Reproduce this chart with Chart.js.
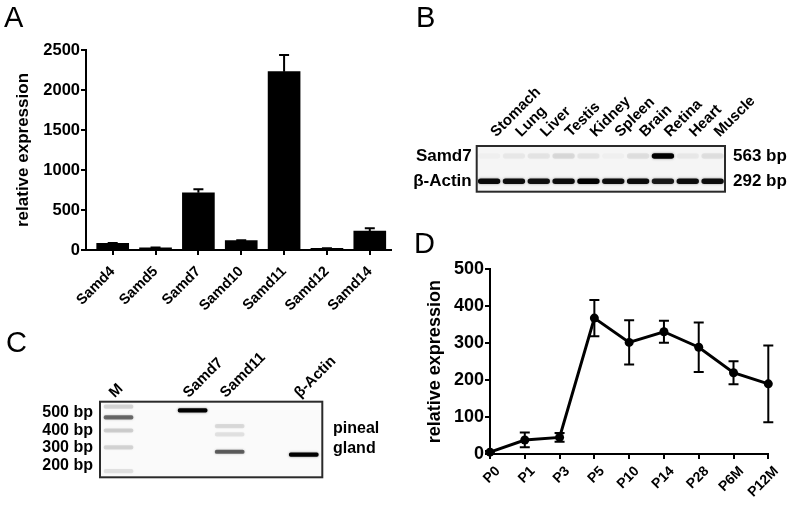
<!DOCTYPE html>
<html>
<head>
<meta charset="utf-8">
<script src="https://cdn.jsdelivr.net/npm/chart.js@4"></script>
<style>
  body { margin: 0; background: #fff; font-family: "Liberation Sans", Arial, Helvetica, sans-serif; }
  #fig { position: relative; width: 791px; height: 507px; overflow: hidden; }
  .panel { position: absolute; }
  .letter { position: absolute; font-size: 29px; line-height: 1; color: #000; }
  .note { position: absolute; font-weight: bold; font-size: 16px; line-height: 20px; color: #000; }
</style>
</head>
<body>
<div id="fig">
  <div class="panel" style="left:0;top:300px;width:400px;height:207px"><canvas id="gelC"></canvas></div>
  <div class="panel" style="left:0;top:0;width:400px;height:320px"><canvas id="chartA"></canvas></div>
  <div class="panel" style="left:400px;top:0;width:391px;height:200px"><canvas id="gelB"></canvas></div>
  <div class="panel" style="left:400px;top:200px;width:391px;height:307px"><canvas id="chartD"></canvas></div>
  <div class="letter" style="left:4px;top:3px">A</div>
  <div class="letter" style="left:416px;top:3px">B</div>
  <div class="letter" style="left:6px;top:328px">C</div>
  <div class="letter" style="left:414px;top:229px">D</div>
  <div class="note" style="left:333px;top:418px">pineal<br>gland</div>
</div>
<script>
// panel A: Samd family expression
const samdGenes = ['Samd4', 'Samd5', 'Samd7', 'Samd10', 'Samd11', 'Samd12', 'Samd14'];
const samdExpr = [83, 28, 716, 117, 2229, 21, 237];
const samdErr = [4, 2, 42, 5, 208, 2, 34];

// panel B: RT-PCR over tissues (band strength 0..1)
const tissues = ['Stomach', 'Lung', 'Liver', 'Testis', 'Kidney', 'Spleen', 'Brain', 'Retina', 'Heart', 'Muscle'];
const samd7Band = [0.02, 0.04, 0.05, 0.09, 0.05, 0.02, 0.07, 1.0, 0.04, 0.07];
const actinBand = [0.95, 0.92, 0.9, 0.93, 1.0, 0.92, 0.93, 0.85, 0.93, 0.93];
const gelBRows = ['Samd7', 'β-Actin'];
const gelBSizes = ['563 bp', '292 bp'];

// panel C: pineal gland gel
const lanesC = ['M', '', 'Samd7', 'Samd11', '', 'β-Actin'];
const bandLaneC = [0, 0, 0, 0, 0, 2, 3, 3, 3, 5];
const bandSizeC = [600, 500, 400, 300, 200, 563, 431, 374, 278, 265];
const bandLevelC = [0.12, 0.5, 0.14, 0.12, 0.08, 1.0, 0.1, 0.08, 0.55, 1.0];
const markerLabelsC = ['500 bp', '400 bp', '300 bp', '200 bp'];

// panel D: Samd7 over development
const ages = ['P0', 'P1', 'P3', 'P5', 'P10', 'P14', 'P28', 'P6M', 'P12M'];
const samd7Expr = [5, 38, 45, 368, 302, 331, 289, 220, 190];
const samd7Err = [3, 20, 12, 49, 60, 30, 67, 31, 104];

Chart.defaults.font.family = '"Liberation Sans", Arial, Helvetica, sans-serif';
Chart.defaults.color = '#000';
Chart.defaults.animation = false;
Chart.defaults.plugins.legend.display = false;
Chart.defaults.plugins.tooltip.enabled = false;

const bold = size => ({ size: size, weight: 'bold' });
const shade = lvl => 'rgba(0,0,0,' + lvl + ')';

// force a scale's box size so the plot areas line up with the figure
function fixSize(w, h) {
  return function (s) {
    if (w != null) s.width = w;
    if (h != null) s.height = h;
    s.paddingLeft = s.paddingRight = s.paddingTop = s.paddingBottom = 0;
  };
}

const axisGrid = { drawOnChartArea: false, offset: false, color: '#000', lineWidth: 2, tickLength: 5 };
const axisBorder = { color: '#000', width: 2 };
const noGrid = { display: false, drawTicks: false };

const errorBars = {
  id: 'errorBars',
  afterDatasetsDraw(chart, args, opts) {
    const meta = chart.getDatasetMeta(0);
    const y = chart.scales.y;
    const vals = chart.data.datasets[0].data;
    const ctx = chart.ctx;
    ctx.save();
    ctx.strokeStyle = '#000';
    ctx.lineWidth = opts.width;
    meta.data.forEach((el, i) => {
      const v = typeof vals[i] === 'object' ? vals[i].y : vals[i];
      const e = opts.errors[i];
      const top = y.getPixelForValue(v + e);
      const bot = opts.upOnly ? y.getPixelForValue(v) : y.getPixelForValue(v - e);
      ctx.beginPath();
      ctx.moveTo(el.x, top); ctx.lineTo(el.x, bot);
      ctx.moveTo(el.x - opts.cap, top); ctx.lineTo(el.x + opts.cap, top);
      if (!opts.upOnly) { ctx.moveTo(el.x - opts.cap, bot); ctx.lineTo(el.x + opts.cap, bot); }
      ctx.stroke();
    });
    ctx.restore();
  }
};

// gel look: light background, soft band edges, dark frame
const gelFrame = {
  id: 'gelFrame',
  beforeDatasetsDraw(chart, args, opts) {
    const a = chart.chartArea, ctx = chart.ctx;
    ctx.save();
    ctx.fillStyle = opts.fill;
    ctx.fillRect(a.left, a.top, a.width, a.height);
    ctx.shadowColor = 'rgba(0,0,0,0.45)';
    ctx.shadowBlur = 2.5;
  },
  afterDatasetsDraw(chart) {
    const a = chart.chartArea, ctx = chart.ctx;
    ctx.restore();
    ctx.save();
    ctx.strokeStyle = '#2a2a2a';
    ctx.lineWidth = 2;
    ctx.strokeRect(a.left, a.top, a.width, a.height);
    ctx.restore();
  }
};

// A
new Chart(document.getElementById('chartA'), {
  type: 'bar',
  data: {
    datasets: [{
      data: samdExpr.map((v, i) => ({ x: i, y: v })),
      backgroundColor: '#000',
      barThickness: 32
    }]
  },
  options: {
    responsive: true,
    maintainAspectRatio: false,
    layout: { padding: { top: 50, right: 9 } },
    scales: {
      x: {
        type: 'linear', min: -0.623, max: 6.495, offset: false,
        grid: axisGrid, border: axisBorder,
        afterBuildTicks: s => { s.ticks = samdGenes.map((_, i) => ({ value: i })); },
        ticks: { font: bold(14.5), minRotation: 45, maxRotation: 45, autoSkip: false, padding: 8, callback: v => samdGenes[v] },
        afterFit: fixSize(null, 70)
      },
      y: {
        min: 0, max: 2500,
        grid: axisGrid, border: axisBorder,
        ticks: { stepSize: 500, font: bold(16.5), padding: 1, callback: v => String(v) },
        title: { display: true, text: 'relative expression', font: bold(17), padding: { top: 13 } },
        afterFit: fixSize(86, null)
      }
    },
    plugins: { errorBars: { errors: samdErr, upOnly: true, cap: 5, width: 2 } }
  },
  plugins: [errorBars]
});

// B
const rowCenter = [0.22, 0.77];
const halfBand = 0.06;
new Chart(document.getElementById('gelB'), {
  type: 'bar',
  data: {
    labels: tissues,
    datasets: [
      {
        data: samd7Band.map(() => [rowCenter[0] - halfBand, rowCenter[0] + halfBand]),
        backgroundColor: samd7Band.map(shade),
        grouped: false, barPercentage: 0.9, categoryPercentage: 1, borderRadius: 3, borderSkipped: false
      },
      {
        data: actinBand.map(() => [rowCenter[1] - halfBand, rowCenter[1] + halfBand]),
        backgroundColor: actinBand.map(shade),
        grouped: false, barPercentage: 0.9, categoryPercentage: 1, borderRadius: 3, borderSkipped: false
      }
    ]
  },
  options: {
    responsive: true,
    maintainAspectRatio: false,
    layout: { padding: { bottom: 8.3 } },
    scales: {
      x: {
        position: 'top',
        grid: noGrid, border: { display: false },
        ticks: { font: bold(15), minRotation: 45, maxRotation: 45, autoSkip: false, padding: 5, labelOffset: 17 },
        afterFit: fixSize(null, 146)
      },
      y: {
        position: 'left', reverse: true, min: 0, max: 1,
        grid: noGrid, border: { display: false },
        afterBuildTicks: s => { s.ticks = rowCenter.map(v => ({ value: v })); },
        ticks: { font: bold(17), padding: 5, callback: (v, i) => gelBRows[i] },
        afterFit: fixSize(76.7, null)
      },
      y2: {
        position: 'right', reverse: true, min: 0, max: 1, display: true,
        grid: noGrid, border: { display: false },
        afterBuildTicks: s => { s.ticks = rowCenter.map(v => ({ value: v })); },
        ticks: { font: bold(17), padding: 8, callback: (v, i) => gelBSizes[i] },
        afterFit: fixSize(66, null)
      }
    },
    plugins: { gelFrame: { fill: '#f5f5f5' } }
  },
  plugins: [gelFrame]
});

// C
new Chart(document.getElementById('gelC'), {
  type: 'bar',
  data: {
    datasets: [{
      data: bandSizeC.map((bp, i) => ({ x: bandLaneC[i], y: [bp / 1.03, bp * 1.03] })),
      backgroundColor: bandLevelC.map(shade),
      barThickness: 29, borderRadius: 2, borderSkipped: false
    }]
  },
  options: {
    responsive: true,
    maintainAspectRatio: false,
    layout: { padding: { right: 77.7, bottom: 29.7 } },
    scales: {
      x: {
        type: 'linear', position: 'top', min: -0.5, max: 5.5, offset: false,
        grid: noGrid, border: { display: false },
        afterBuildTicks: s => { s.ticks = lanesC.map((_, i) => ({ value: i })); },
        ticks: { font: bold(15), minRotation: 45, maxRotation: 45, autoSkip: false, padding: 0, labelOffset: 6, callback: v => lanesC[v] },
        afterFit: fixSize(null, 101.7)
      },
      y: {
        type: 'logarithmic', min: 180, max: 653, display: false
      },
      // marker size labels, evenly spaced beside the gel
      yl: {
        type: 'linear', position: 'left', reverse: true, min: -0.596, max: 3.65,
        grid: noGrid, border: { display: false },
        afterBuildTicks: s => { s.ticks = markerLabelsC.map((_, i) => ({ value: i })); },
        ticks: { font: bold(16), padding: 7, callback: v => markerLabelsC[v] },
        afterFit: fixSize(100, null)
      }
    },
    plugins: { gelFrame: { fill: '#fafafa' } }
  },
  plugins: [gelFrame]
});

// D
new Chart(document.getElementById('chartD'), {
  type: 'line',
  data: {
    labels: ages,
    datasets: [{
      data: samd7Expr,
      borderColor: '#000', borderWidth: 3,
      pointRadius: 4.5, pointBackgroundColor: '#000', pointBorderWidth: 0,
      tension: 0, clip: false
    }]
  },
  options: {
    responsive: true,
    maintainAspectRatio: false,
    layout: { padding: { top: 69.3, right: 22.7 } },
    scales: {
      x: {
        grid: axisGrid, border: axisBorder,
        ticks: { font: bold(14), minRotation: 45, maxRotation: 45, autoSkip: false, padding: 4, labelOffset: 8 },
        afterFit: fixSize(null, 53)
      },
      y: {
        min: 0, max: 500,
        grid: axisGrid, border: axisBorder,
        ticks: { stepSize: 100, font: bold(18), padding: 1 },
        title: { display: true, text: 'relative expression', font: bold(18), padding: { top: 24 } },
        afterFit: fixSize(90, null)
      }
    },
    plugins: { errorBars: { errors: samd7Err, upOnly: false, cap: 5, width: 2 } }
  },
  plugins: [errorBars]
});
</script>
</body>
</html>
